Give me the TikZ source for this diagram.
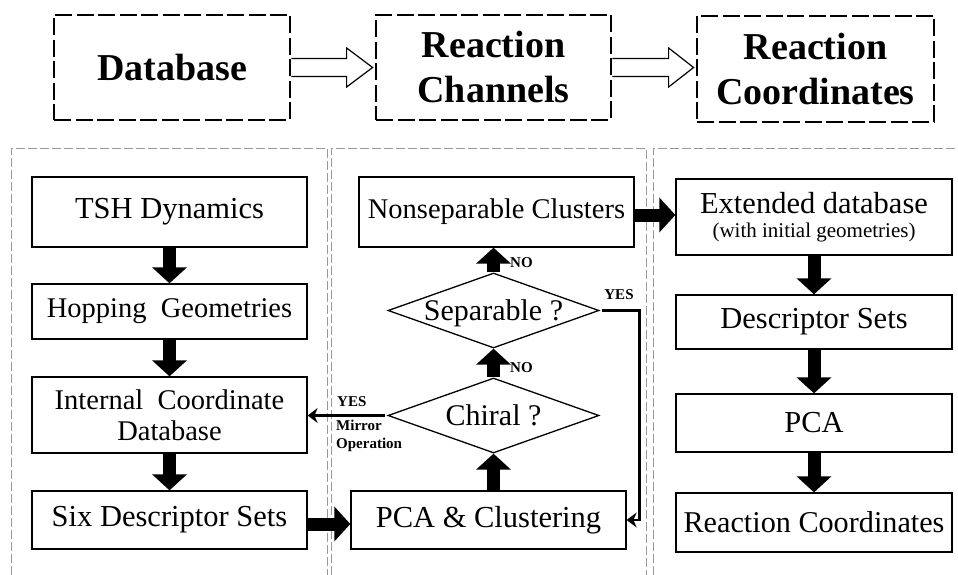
\documentclass[tikz,border=0pt]{standalone}
\usepackage{fontspec}
\setmainfont{Liberation Serif}
\usetikzlibrary{arrows.meta,shapes.geometric,calc}
\begin{document}
\begin{tikzpicture}[x=1pt,y=-1pt,
  topbox/.style={draw, line width=2.8pt, dash pattern=on 17pt off 4.5pt, inner sep=0pt, align=center,
    font=\bfseries\fontsize{38}{45}\selectfont},
  proc/.style={draw, line width=1.3pt, inner sep=0pt, align=center, font=\fontsize{30.5}{31}\selectfont},
  smaller/.style={font=\fontsize{28.5}{31}\selectfont},
  dia/.style={draw, diamond, aspect=2.81, line width=1.3pt, inner sep=0pt, font=\fontsize{30}{31}\selectfont,
    text height=19pt, text depth=0pt, minimum width=211pt, minimum height=75pt},
  panel/.style={draw=gray!80, line width=0.7pt, dash pattern=on 9pt off 3pt},
  hollow/.style={draw, line width=1.2pt, line join=miter},
  fat/.style={line width=13pt, -{Triangle[length=16pt,width=34pt]}},
  yesline/.style={line width=2.8pt, -{Stealth[length=10pt,width=15pt]}},
  lab/.style={font=\bfseries\fontsize{15}{18}\selectfont, inner sep=0pt, align=left}
]
\useasboundingbox (0,0) rectangle (958,575);

% panels
\draw[panel] (11,575) -- (11,148) -- (327,148) -- (327,575);
\draw[panel] (331,575) -- (331,148) -- (646,148) -- (646,575);
\draw[panel] (653,575) -- (653,148) -- (958,148);

% top row
\node[topbox, minimum width=236pt, minimum height=105pt] (db) at (172,67.5) {Database};
\node[topbox, minimum width=235pt, minimum height=105pt] (rch) at (493.5,67.5) {Reaction\\Channels};
\node[topbox, minimum width=237pt, minimum height=106pt] (rco) at (815.5,69) {Reaction\\Coordinates};

\draw[hollow] ($(db.east)+(0,-9)$) -- ($(rch.west)+(-28,-9)$) -- ($(rch.west)+(-28,-19.5)$)
  -- ($(rch.west)+(-2,0)$) -- ($(rch.west)+(-28,19.5)$) -- ($(rch.west)+(-28,9)$) -- ($(db.east)+(0,9)$);
\draw[hollow] ($(rch.east)+(0,-9)$) -- ($(rco.west |- rch.east)+(-27,-9)$) -- ($(rco.west |- rch.east)+(-27,-19.5)$)
  -- ($(rco.west |- rch.east)+(-2,0)$) -- ($(rco.west |- rch.east)+(-27,19.5)$) -- ($(rco.west |- rch.east)+(-27,9)$) -- ($(rch.east)+(0,9)$);

% left column
\node[proc, minimum width=275pt, minimum height=70pt] (tsh) at (169.5,212) {TSH Dynamics};
\node[proc, smaller, minimum width=275pt, minimum height=55pt] (hop) at (169.5,311.5) {Hopping\ \ Geometries};
\node[proc, smaller, minimum width=275pt, minimum height=76pt] (icd) at (169.5,415) {Internal\ \ Coordinate\\Database};
\node[proc, minimum width=275pt, minimum height=58pt] (six) at (169.5,520) {Six Descriptor Sets};

% middle column
\node[proc, smaller, minimum width=275pt, minimum height=70pt] (nsc) at (496.5,212) {Nonseparable Clusters};
\node[dia] (sep) at (493.5,310.5) {Separable ?};
\node[dia] (chi) at (493.5,415.5) {Chiral ?};
\node[proc, minimum width=275pt, minimum height=58pt] (pca) at (488.5,520) {PCA \& Clustering};

% right column
\node[proc, minimum width=276pt, minimum height=76pt] (ext) at (814,217)
  {Extended database\\[-7pt]{\fontsize{21}{22}\selectfont (with initial geometries)}};
\node[proc, minimum width=276pt, minimum height=54pt] (des) at (814,322) {Descriptor Sets};
\node[proc, minimum width=276pt, minimum height=58pt] (pcb) at (814,423) {PCA};
\node[proc, font=\fontsize{30.2}{31}\selectfont, minimum width=276pt, minimum height=59pt] (rcf) at (814,522.5) {Reaction Coordinates};

% fat arrows
\draw[fat] (tsh) -- (hop);
\draw[fat] (hop) -- (icd);
\draw[fat] (icd) -- (six);
\draw[fat] ([yshift=-4pt]six.east) -- ([yshift=-4pt]six.east -| pca.west);
\draw[fat] (chi.south |- pca.north) -- (chi.south);
\draw[fat] (chi.north) -- (sep.south);
\draw[fat] (sep.north) -- (sep.north |- nsc.south);
\draw[fat] ([yshift=-3pt]nsc.east) -- ([yshift=-3pt]nsc.east -| ext.west);
\draw[fat] (ext) -- (des);
\draw[fat] (des) -- (pcb);
\draw[fat] (pcb) -- (rcf);

% yes lines
\draw[yesline] ([xshift=2pt]sep.east) -- ++(38,0) |- (pca.east);
\draw[yesline] ([xshift=-2pt]chi.west) -- (chi.west -| icd.east);

% labels
\node[lab, anchor=west] (no1) at (510,263) {NO};
\node[lab, anchor=west] (no2) at (510,368) {NO};
\node[lab] (yes1) at (619,295) {YES};
\node[lab, anchor=west] (yes2) at (337,402) {YES};
\node[lab, anchor=north west] (mir) at (336,420) {Mirror\\Operation};
\end{tikzpicture}
\end{document}
